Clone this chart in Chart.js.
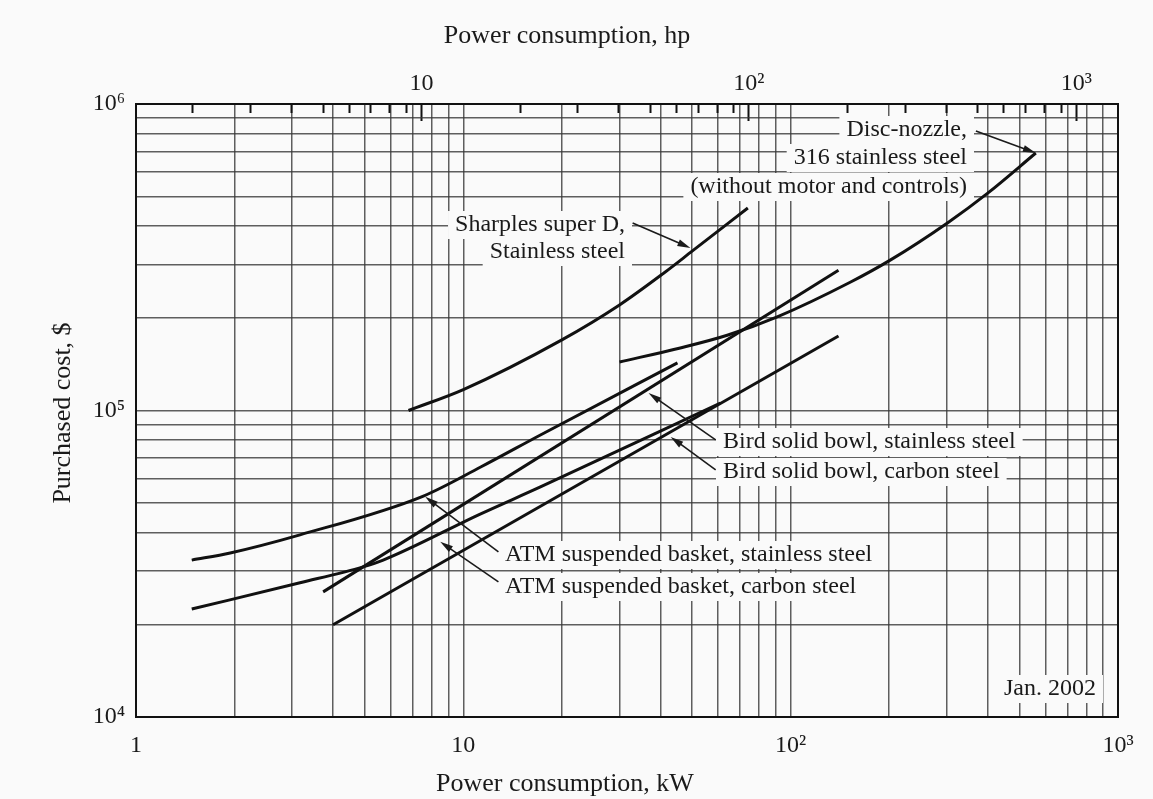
<!DOCTYPE html>
<html>
<head>
<meta charset="utf-8">
<script src="https://cdn.jsdelivr.net/npm/chart.js@4"></script>
<style>
  html, body { margin: 0; padding: 0; background: #fafafa; }
  canvas { display: block; }
</style>
</head>
<body>
<canvas id="chart" width="1153" height="799"></canvas>
<script>
/* Centrifugal separators - purchased cost vs power consumption (log-log) */

const KW_PER_HP = 0.7457;

// Disc-nozzle, 316 stainless steel (without motor and controls)
const discKw   = [30, 46, 64, 91, 152, 202, 302, 400, 561];
const discCost = [144000, 160000, 176000, 202000, 262000, 310000, 410000, 512000, 692000];

// Sharples super D, stainless steel
const sharplesKw   = [6.8, 10, 20, 30, 41, 50, 74];
const sharplesCost = [100000, 117000, 170000, 221000, 281000, 331000, 458000];

// Bird solid bowl
const birdSsKw   = [3.73, 140];
const birdSsCost = [25600, 287000];
const birdCsKw   = [4.0, 140];
const birdCsCost = [20000, 175000];

// ATM suspended basket
const atmSsKw   = [1.48, 1.94, 3.17, 7.55, 11.3, 17.2, 45.1];
const atmSsCost = [32500, 34300, 39300, 52600, 65400, 83200, 143000];
const atmCsKw   = [1.48, 3.17, 4.94, 5.69, 11.3, 17.2, 61];
const atmCsCost = [22500, 27400, 30900, 32500, 46000, 56300, 105800];

// grid / tick values
const kwTicks   = [1, 2, 3, 4, 5, 6, 7, 8, 9, 10, 20, 30, 40, 50, 60, 70, 80, 90, 100,
                   200, 300, 400, 500, 600, 700, 800, 900, 1000];
const hpTicks   = [2, 3, 4, 5, 6, 7, 8, 9, 10, 20, 30, 40, 50, 60, 70, 80, 90, 100,
                   200, 300, 400, 500, 600, 700, 800, 900, 1000];
const costTicks = [1e4, 2e4, 3e4, 4e4, 5e4, 6e4, 7e4, 8e4, 9e4, 1e5,
                   2e5, 3e5, 4e5, 5e5, 6e5, 7e5, 8e5, 9e5, 1e6];
const kwLabels   = { 1: '1', 10: '10', 100: '10²', 1000: '10³' };
const hpLabels   = { 10: '10', 100: '10²', 1000: '10³' };
const costLabels = { 10000: '10⁴', 100000: '10⁵', 1000000: '10⁶' };

const SERIF = "'Liberation Serif', 'Times New Roman', serif";
const BG = '#fafafa';

function pts(xs, ys) {
    return xs.map((x, i) => ({ x, y: ys[i] }));
}

function curve(data, smooth) {
    return {
        data,
        borderColor: '#111',
        borderWidth: 3,
        pointRadius: 0,
        cubicInterpolationMode: smooth ? 'monotone' : 'default',
        tension: 0,
        fill: false,
    };
}

// annotation text blocks (pixel placement) and arrows (data coordinates)
const notes = [
    { lines: ['Disc-nozzle,', '316 stainless steel', '(without motor and controls)'], x: 967, y: [130, 158, 187], align: 'right' },
    { lines: ['Sharples super D,', 'Stainless steel'], x: 625, y: [225, 252], align: 'right' },
    { lines: ['Bird solid bowl, stainless steel', 'Bird solid bowl, carbon steel'], x: 723, y: [442, 472], align: 'left' },
    { lines: ['ATM suspended basket, stainless steel', 'ATM suspended basket, carbon steel'], x: 505, y: [555, 587], align: 'left' },
    { lines: ['Jan. 2002'], x: 1004, y: [689], align: 'left' },
];
const arrows = [
    { from: [368, 816000], to: [561, 692000] },
    { from: [32.9, 409000], to: [49.4, 339000] },
    { from: [59, 80200], to: [36.8, 114000] },
    { from: [59, 64000], to: [43, 82000] },
    { from: [12.8, 34600], to: [7.65, 52300] },
    { from: [12.8, 27600], to: [8.5, 37300] },
];

const annotate = {
    id: 'annotate',
    beforeDraw(chart) {
        const { ctx, width, height } = chart;
        ctx.save();
        ctx.fillStyle = BG;
        ctx.fillRect(0, 0, width, height);
        ctx.restore();
    },
    beforeDatasetsDraw(chart) {
        const { ctx } = chart;
        ctx.save();
        ctx.font = `24px ${SERIF}`;
        ctx.fillStyle = BG;
        notes.forEach(n => {
            n.lines.forEach((t, i) => {
                const w = ctx.measureText(t).width;
                const x0 = n.align === 'right' ? n.x - w : n.x;
                ctx.fillRect(x0 - 7, n.y[i] - 14, w + 14, 28);
            });
        });
        ctx.restore();
    },
    afterDatasetsDraw(chart) {
        const { ctx, chartArea, scales } = chart;
        const sx = scales.x, sy = scales.y;
        ctx.save();
        // frame
        ctx.strokeStyle = '#111';
        ctx.lineWidth = 2;
        ctx.strokeRect(chartArea.left, chartArea.top, chartArea.right - chartArea.left, chartArea.bottom - chartArea.top);

        // text
        ctx.font = `24px ${SERIF}`;
        ctx.fillStyle = '#1a1a1a';
        ctx.textBaseline = 'middle';
        notes.forEach(n => {
            ctx.textAlign = n.align;
            n.lines.forEach((t, i) => ctx.fillText(t, n.x, n.y[i]));
        });

        // arrows
        ctx.strokeStyle = '#1a1a1a';
        ctx.lineWidth = 1.6;
        arrows.forEach(a => {
            const x1 = sx.getPixelForValue(a.from[0]), y1 = sy.getPixelForValue(a.from[1]);
            const x2 = sx.getPixelForValue(a.to[0]), y2 = sy.getPixelForValue(a.to[1]);
            const ang = Math.atan2(y2 - y1, x2 - x1);
            ctx.beginPath();
            ctx.moveTo(x1, y1);
            ctx.lineTo(x2 - 8 * Math.cos(ang), y2 - 8 * Math.sin(ang));
            ctx.stroke();
            ctx.beginPath();
            ctx.moveTo(x2, y2);
            ctx.lineTo(x2 - 13 * Math.cos(ang) + 3.5 * Math.sin(ang), y2 - 13 * Math.sin(ang) - 3.5 * Math.cos(ang));
            ctx.lineTo(x2 - 13 * Math.cos(ang) - 3.5 * Math.sin(ang), y2 - 13 * Math.sin(ang) + 3.5 * Math.cos(ang));
            ctx.closePath();
            ctx.fill();
        });

        // axis titles
        ctx.font = `26px ${SERIF}`;
        ctx.textAlign = 'center';
        ctx.fillText('Power consumption, hp', 567, 36);
        ctx.fillText('Power consumption, kW', 565, 784);
        ctx.translate(63, 413);
        ctx.rotate(-Math.PI / 2);
        ctx.fillText('Purchased cost, $', 0, 0);
        ctx.restore();
    },
};

const gridColor = 'rgba(55, 55, 55, 0.8)';

new Chart(document.getElementById('chart'), {
    type: 'line',
    data: {
        datasets: [
            curve(pts(discKw, discCost), true),
            curve(pts(sharplesKw, sharplesCost), true),
            curve(pts(birdSsKw, birdSsCost), false),
            curve(pts(birdCsKw, birdCsCost), false),
            curve(pts(atmSsKw, atmSsCost), true),
            curve(pts(atmCsKw, atmCsCost), true),
        ],
    },
    options: {
        responsive: false,
        animation: false,
        devicePixelRatio: 1,
        layout: { padding: { left: 0, right: 35, top: 0, bottom: 0 } },
        plugins: {
            legend: { display: false },
            tooltip: { enabled: false },
        },
        scales: {
            x: {
                type: 'logarithmic',
                position: 'bottom',
                min: 1,
                max: 1000,
                afterBuildTicks: s => { s.ticks = kwTicks.map(v => ({ value: v })); },
                afterFit: s => { s.height = 82; },
                border: { display: false },
                grid: { color: gridColor, lineWidth: 1.5, drawTicks: false },
                ticks: {
                    autoSkip: false,
                    maxRotation: 0,
                    padding: 14,
                    color: '#1a1a1a',
                    font: { family: SERIF, size: 24 },
                    callback: v => kwLabels[v] || '',
                },
            },
            x2: {
                type: 'logarithmic',
                position: 'top',
                min: 1 / KW_PER_HP,
                max: 1000 / KW_PER_HP,
                afterBuildTicks: s => { s.ticks = hpTicks.map(v => ({ value: v })); },
                afterFit: s => { s.height = 104; },
                border: { display: false },
                grid: {
                    drawOnChartArea: false,
                    drawTicks: true,
                    tickLength: -17,
                    tickColor: '#111',
                    tickWidth: 2,
                    // minor hp ticks are shorter than the decade ones
                    tickBorderDash: c => (hpLabels[c.tick && c.tick.value] ? [] : [0, 8, 9, 100]),
                },
                ticks: {
                    autoSkip: false,
                    maxRotation: 0,
                    padding: 23,
                    color: '#1a1a1a',
                    font: { family: SERIF, size: 24 },
                    callback: v => hpLabels[v] || '',
                },
            },
            y: {
                type: 'logarithmic',
                position: 'left',
                min: 1e4,
                max: 1e6,
                afterBuildTicks: s => { s.ticks = costTicks.map(v => ({ value: v })); },
                afterFit: s => { s.width = 136; },
                border: { display: false },
                grid: { color: gridColor, lineWidth: 1.5, drawTicks: false },
                ticks: {
                    autoSkip: false,
                    padding: 11,
                    color: '#1a1a1a',
                    font: { family: SERIF, size: 24 },
                    callback: v => costLabels[v] || '',
                },
            },
        },
    },
    plugins: [annotate],
});
</script>
</body>
</html>
